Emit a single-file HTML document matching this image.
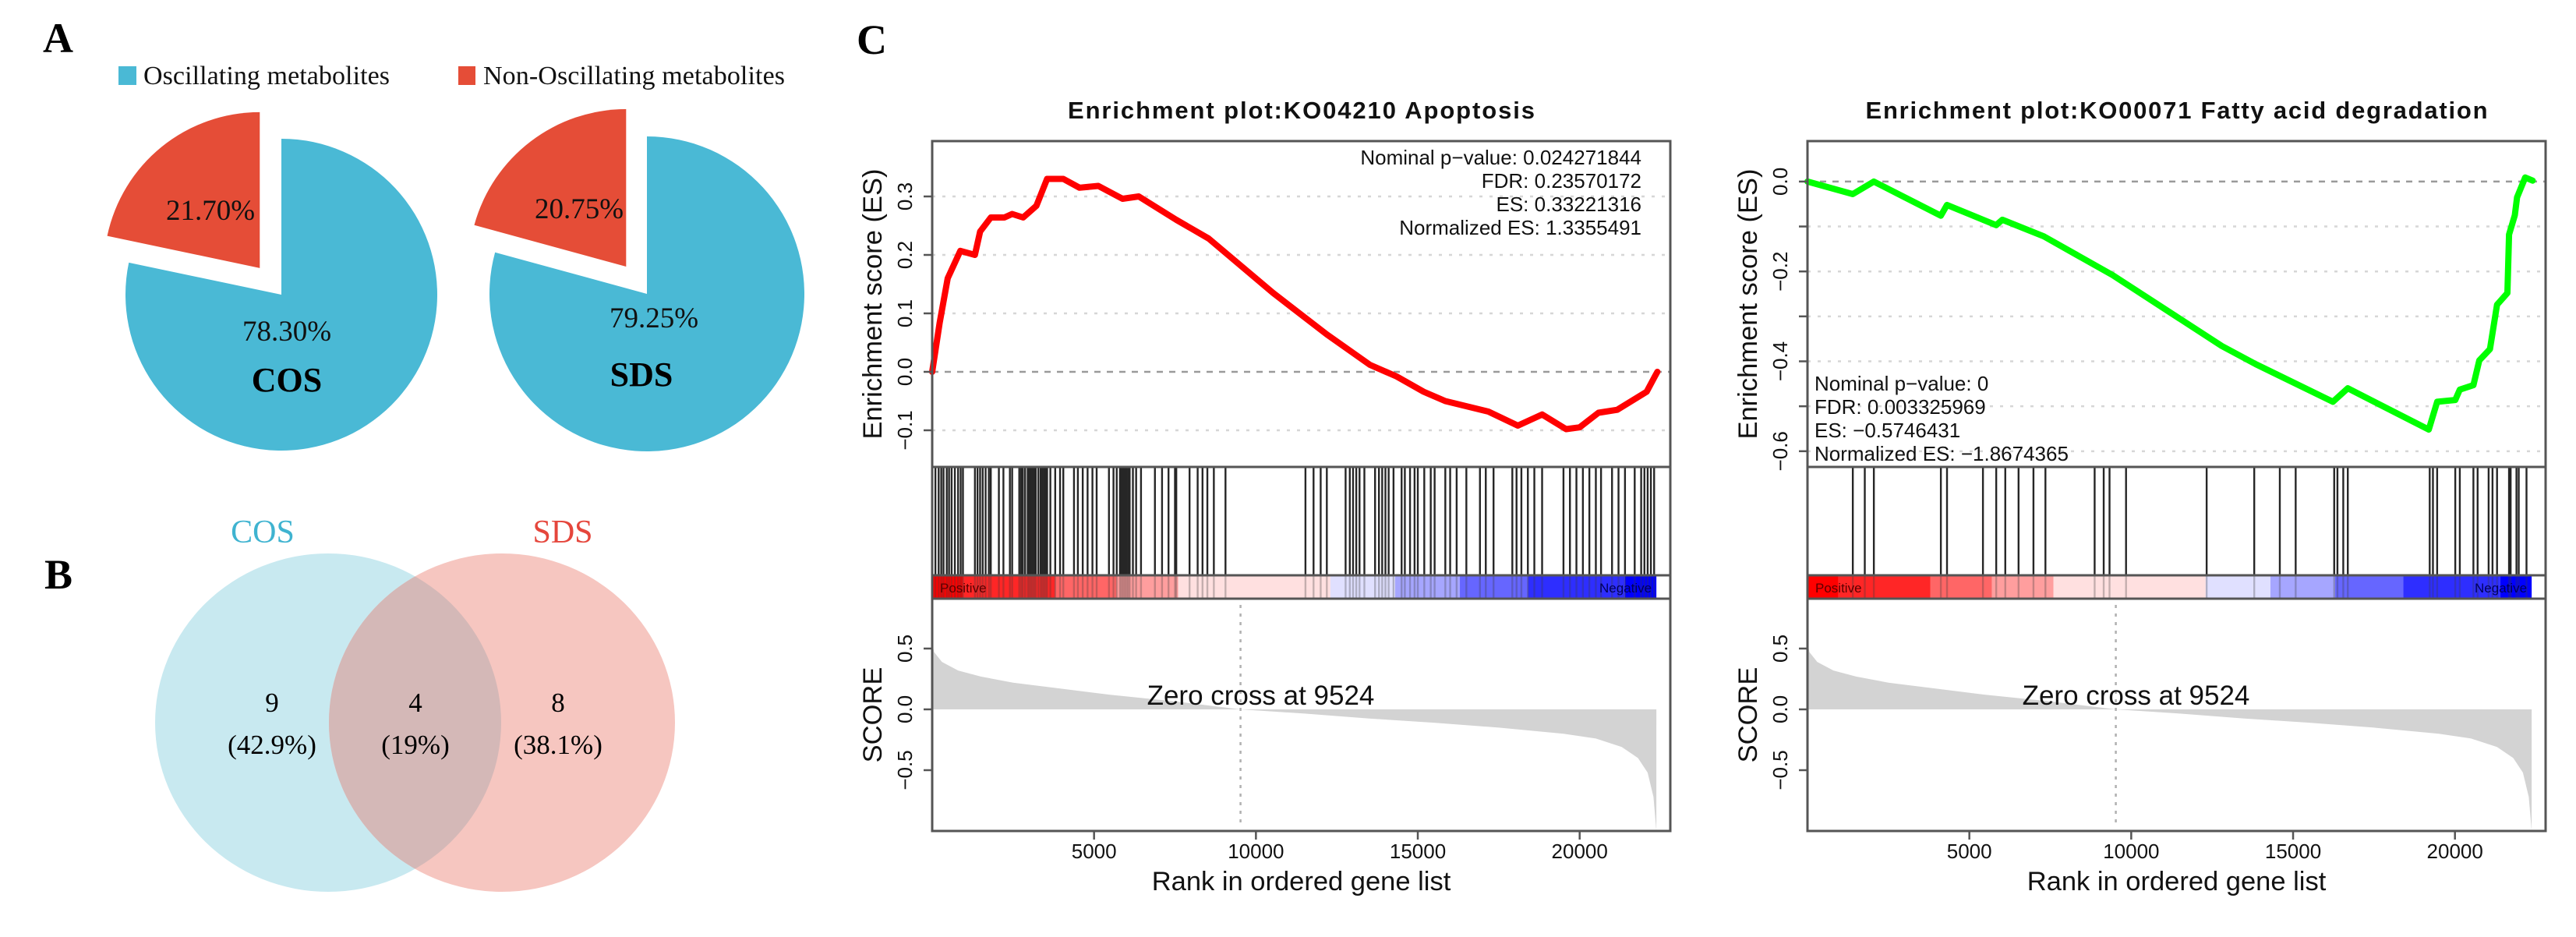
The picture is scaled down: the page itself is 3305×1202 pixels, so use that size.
<!DOCTYPE html>
<html><head><meta charset="utf-8"><title>Metabolite figure</title>
<style>
html,body{margin:0;padding:0;background:#fff;}
svg{display:block;}
.serif{font-family:"Liberation Serif","Times New Roman",serif;}
.sans{font-family:"Liberation Sans",Arial,sans-serif;}
</style></head>
<body>
<svg id="fig" width="3305" height="1202" viewBox="0 0 3305 1202" xmlns="http://www.w3.org/2000/svg">
  <rect x="0" y="0" width="3305" height="1202" fill="#fff"/>
  <!-- Panel labels -->
  <text class="serif" x="55" y="67" font-size="54" font-weight="bold">A</text>
  <text class="serif" x="57" y="755" font-size="54" font-weight="bold">B</text>
  <text class="serif" x="1099" y="69" font-size="54" font-weight="bold">C</text>
  <!-- Legend -->
  <g>
    <rect x="152" y="85" width="23" height="24" fill="#4ab9d5"/>
    <text class="serif" x="184" y="108" font-size="34" fill="#111" textLength="316">Oscillating metabolites</text>
    <rect x="588" y="85" width="22" height="24" fill="#e54d37"/>
    <text class="serif" x="620" y="108" font-size="34" fill="#111" textLength="387">Non-Oscillating metabolites</text>
  </g>
  <g id="pies"></g>
  <!-- Venn -->
  <g>
    <ellipse cx="421" cy="927" rx="222" ry="217" fill="#c8e9f0"/>
    <ellipse cx="644" cy="927" rx="222" ry="217" fill="#f6c6c0"/>
    <clipPath id="cosClip"><ellipse cx="421" cy="927" rx="222" ry="217"/></clipPath>
    <ellipse cx="644" cy="927" rx="222" ry="217" fill="#d4b8b7" clip-path="url(#cosClip)"/>
    <text class="serif" x="337" y="696" font-size="42" fill="#3fb3d0" text-anchor="middle">COS</text>
    <text class="serif" x="722" y="696" font-size="42" fill="#e5463c" text-anchor="middle">SDS</text>
    <text class="serif" x="349" y="913" font-size="35" text-anchor="middle">9</text>
    <text class="serif" x="349" y="967" font-size="35" text-anchor="middle">(42.9%)</text>
    <text class="serif" x="533" y="913" font-size="35" text-anchor="middle">4</text>
    <text class="serif" x="533" y="967" font-size="35" text-anchor="middle">(19%)</text>
    <text class="serif" x="716" y="913" font-size="35" text-anchor="middle">8</text>
    <text class="serif" x="716" y="967" font-size="35" text-anchor="middle">(38.1%)</text>
  </g>
  <g id="gsea1"></g>
  <g id="gsea2"></g>
</svg>
<script>
// ---------- Pie data ----------
const pieNames = ["COS", "SDS"];
const pieOscPct = [78.30, 79.25];
const pieNonPct = [21.70, 20.75];

// ---------- Shared GSEA data ----------
const totalGenes = 22370;
const xTickVals = [5000, 10000, 15000, 20000];
const zeroCross = 9524;
const scoreRanks = [0, 60, 300, 800, 1500, 2500, 4000, 5500, 7500, 9524, 11500, 13500, 15500, 17500, 19500, 20500, 21300, 21800, 22100, 22280, 22370];
const scoreVals  = [0.55, 0.47, 0.39, 0.32, 0.27, 0.22, 0.17, 0.12, 0.065, 0, -0.035, -0.075, -0.11, -0.15, -0.2, -0.24, -0.31, -0.4, -0.52, -0.72, -1.0];
const scoreTickVals = [0.5, 0.0, -0.5];
const scoreTickLabels = ["0.5", "0.0", "\u22120.5"];
const barBreaks = [0, 950, 3800, 5700, 7600, 12300, 14300, 16300, 18400, 21400, 22370];
const barLevels = [1.0, 0.85, 0.6, 0.38, 0.12, -0.12, -0.35, -0.6, -0.82, -1.0];

// ---------- Apoptosis (left) ----------
const esRanks1 = [0, 230, 480, 870, 1320, 1480, 1810, 2230, 2470, 2810, 3220, 3550, 4050, 4550, 5130, 5880, 6380, 7540, 8540, 10530, 12190, 13520, 14350, 15180, 15850, 17180, 18090, 18840, 19580, 20000, 20580, 21160, 22070, 22320, 22400];
const esVals1  = [0, 0.084, 0.16, 0.207, 0.20, 0.24, 0.264, 0.264, 0.27, 0.264, 0.284, 0.33, 0.33, 0.315, 0.318, 0.296, 0.30, 0.26, 0.228, 0.135, 0.064, 0.012, -0.008, -0.034, -0.05, -0.068, -0.092, -0.073, -0.098, -0.095, -0.07, -0.065, -0.034, -0.008, 0];
const hits1 = [100,200,280,350,450,520,600,700,800,880,950,1320,1400,1480,1560,1650,1750,1810,2060,2200,2400,2470,2690,2750,2800,2870,2950,3000,3050,3100,3150,3200,3280,3350,3400,3450,3500,3550,3650,3800,3950,4050,4380,4500,4650,4800,4950,5080,5460,5600,5700,5800,5850,5900,5950,6000,6050,6100,6200,6300,6450,6880,7100,7300,7500,7540,7950,8200,8350,8500,8700,9060,11530,11780,12000,12190,12770,12900,13000,13100,13200,13350,13680,13800,13900,14000,14100,14250,14500,14600,14760,14900,15000,15200,15400,15520,15850,16000,16200,16500,16920,17100,17340,17920,18050,18200,18400,18600,18840,19500,19700,19900,20100,20300,20500,20660,21000,21200,21400,21700,21900,22000,22100,22200,22300];
const esTickVals1 = [-0.1, 0.0, 0.1, 0.2, 0.3];
const esTickLabels1 = ["\u22120.1", "0.0", "0.1", "0.2", "0.3"];
const stats1 = ["Nominal p\u2212value: 0.024271844", "FDR: 0.23570172", "ES: 0.33221316", "Normalized ES: 1.3355491"];

// ---------- Fatty acid degradation (right) ----------
const esRanks2 = [0, 1400, 2050, 4120, 4310, 5830, 6020, 7300, 9420, 12800, 13840, 16230, 16690, 19190, 19450, 20010, 20150, 20570, 20750, 21080, 21300, 21620, 21670, 21850, 21920, 22170, 22400];
const esVals2  = [0, -0.028, 0, -0.076, -0.052, -0.097, -0.085, -0.122, -0.208, -0.366, -0.406, -0.49, -0.46, -0.552, -0.49, -0.486, -0.463, -0.453, -0.398, -0.373, -0.274, -0.248, -0.118, -0.075, -0.035, 0.009, 0.002];
const hits2 = [1400,1770,2050,4120,4310,5420,5830,6110,6520,6980,7350,8870,9150,9330,9840,12330,13800,14590,15080,16270,16370,16550,16690,19220,19320,19450,20010,20150,20570,20700,21040,21160,21300,21670,21720,21900,21970,22210];
const esTickVals2 = [0, -0.1, -0.2, -0.3, -0.4, -0.5, -0.6];
const esTickLabels2 = ["0.0", "", "\u22120.2", "", "\u22120.4", "", "\u22120.6"];
const stats2 = ["Nominal p\u2212value: 0", "FDR: 0.003325969", "ES: \u22120.5746431", "Normalized ES: \u22121.8674365"];

const NS = "http://www.w3.org/2000/svg";
function mk(parent, tag, attrs, text) {
  const e = document.createElementNS(NS, tag);
  for (const k in attrs) e.setAttribute(k, attrs[k]);
  if (text !== undefined) e.textContent = text;
  parent.appendChild(e);
  return e;
}

// ---------- Pies ----------
(function () {
  const g = document.getElementById("pies");
  const layout = [
    {cx: 361, cy: 378, r: 200, oscLab: [368, 437], nonLab: [270, 282], nameLab: [368, 502]},
    {cx: 830, cy: 377, r: 202, oscLab: [839, 420], nonLab: [743, 280], nameLab: [823, 495]}
  ];
  const explode = 44;
  function pt(cx, cy, r, deg) {
    const a = deg * Math.PI / 180;
    return [cx + r * Math.sin(a), cy - r * Math.cos(a)];
  }
  for (let i = 0; i < pieNames.length; i++) {
    const L = layout[i];
    const oscDeg = pieOscPct[i] / 100 * 360;
    const nonDeg = pieNonPct[i] / 100 * 360;
    const p0 = pt(L.cx, L.cy, L.r, 0), p1 = pt(L.cx, L.cy, L.r, oscDeg);
    const blue = mk(g, "path", {d: `M${L.cx},${L.cy} L${p0[0]},${p0[1]} A${L.r},${L.r} 0 ${oscDeg > 180 ? 1 : 0} 1 ${p1[0]},${p1[1]} Z`, fill: "#4ab9d5"});
    
    
    const mid = oscDeg + nonDeg / 2;
    const off = pt(0, 0, explode, mid);
    const cx2 = L.cx + off[0], cy2 = L.cy + off[1];
    const q0 = pt(cx2, cy2, L.r, oscDeg), q1 = pt(cx2, cy2, L.r, 360);
    const red = mk(g, "path", {d: `M${cx2},${cy2} L${q0[0]},${q0[1]} A${L.r},${L.r} 0 ${nonDeg > 180 ? 1 : 0} 1 ${q1[0]},${q1[1]} Z`, fill: "#e54d37"});
    
    
    const t1 = mk(g, "text", {x: L.nonLab[0], y: L.nonLab[1], "font-size": 37, "text-anchor": "middle", class: "serif", fill: "#111"}, pieNonPct[i].toFixed(2) + "%");
    
    
    const t2 = mk(g, "text", {x: L.oscLab[0], y: L.oscLab[1], "font-size": 37, "text-anchor": "middle", class: "serif", fill: "#111"}, pieOscPct[i].toFixed(2) + "%");
    
    
    const t3 = mk(g, "text", {x: L.nameLab[0], y: L.nameLab[1], "font-size": 44, "font-weight": "bold", "text-anchor": "middle", class: "serif", fill: "#000"}, pieNames[i]);
    
    
  }
})();

// ---------- GSEA plots ----------
function barColor(l) {
  const v = Math.round(255 * (1 - Math.abs(l)));
  return l >= 0 ? `rgb(255,${v},${v})` : `rgb(${v},${v},255)`;
}
function drawGSEA(gid, o) {
  const g = document.getElementById(gid);
  const L = o.left, R = o.left + 947;
  const top = 181, esBot = 599, barTop = 738, barBot = 768, bot = 1066;
  const xS = r => L + r * (947 / 22800);
  const yES = v => top + (o.esMax - v) / (o.esMax - o.esMin) * (esBot - top);
  const yS = v => barBot + (0.91 - v) / (0.91 + 1.0) * (bot - barBot);

  const title = mk(g, "text", {x: (L + R) / 2, y: 152, "font-size": 31, "font-weight": "bold", "text-anchor": "middle", class: "sans", textLength: o.titleLen, fill: "#111"}, o.title);
  
  

  // gridlines
  o.esTicks.forEach(v => {
    const gl = mk(g, "line", {x1: L, x2: R, y1: yES(v), y2: yES(v), stroke: v === 0 ? "#9a9a9a" : "#d6d6d6", "stroke-width": v === 0 ? 2.5 : 2.5, "stroke-dasharray": v === 0 ? "8,8" : "4,9"});
    
    
  });
  // ES curve
  const pts = o.esRanks.map((r, i) => `${xS(r).toFixed(1)},${yES(o.esVals[i]).toFixed(1)}`).join(" ");
  const curve = mk(g, "polyline", {points: pts, fill: "none", stroke: o.color, "stroke-width": 8, "stroke-linejoin": "round", "stroke-linecap": "round"});
  
  

  // color bar
  for (let i = 0; i < barLevels.length; i++) {
    const rc = mk(g, "rect", {x: xS(barBreaks[i]), y: barTop, width: xS(barBreaks[i + 1]) - xS(barBreaks[i]), height: barBot - barTop, fill: barColor(barLevels[i])});
    
    
  }
  // hits
  o.hits.forEach(r => {
    const h = mk(g, "line", {x1: xS(r), x2: xS(r), y1: esBot, y2: barTop, stroke: "#262626", "stroke-width": 2.4});
    
    
    const h2 = mk(g, "line", {x1: xS(r), x2: xS(r), y1: barTop, y2: barBot, stroke: "rgba(60,60,60,0.3)", "stroke-width": 2.4});
    
    
  });
  const pos = mk(g, "text", {x: L + 10, y: barTop + 22, "font-size": 17, class: "sans", fill: "#5a0000"}, "Positive");
  
  
  const neg = mk(g, "text", {x: xS(totalGenes) - 6, y: barTop + 22, "font-size": 17, "text-anchor": "end", class: "sans", fill: "#00005a"}, "Negative");
  
  

  // score fill
  let d = `M${xS(scoreRanks[0])},${yS(0)}`;
  scoreRanks.forEach((r, i) => { d += ` L${xS(r).toFixed(1)},${yS(scoreVals[i]).toFixed(1)}`; });
  d += ` L${xS(scoreRanks[scoreRanks.length - 1])},${yS(0)} Z`;
  const fill = mk(g, "path", {d: d, fill: "#d3d3d3"});
  
  
  const zl = mk(g, "line", {x1: xS(zeroCross), x2: xS(zeroCross), y1: barBot + 8, y2: bot - 6, stroke: "#b0b0b0", "stroke-width": 2.5, "stroke-dasharray": "4,7"});
  
  
  const zt = mk(g, "text", {x: xS(zeroCross) - 120, y: 904, "font-size": 35, class: "sans", fill: "#111"}, "Zero cross at " + zeroCross);
  
  

  // frame & separators
  const fr = mk(g, "rect", {x: L, y: top, width: R - L, height: bot - top, fill: "none", stroke: "#555", "stroke-width": 3});
  
  
  [esBot, barTop, barBot].forEach(y => {
    const s = mk(g, "line", {x1: L, x2: R, y1: y, y2: y, stroke: "#555", "stroke-width": 3});
    
    
  });

  // ES axis
  o.esTicks.forEach((v, i) => {
    const tk = mk(g, "line", {x1: L - 11, x2: L, y1: yES(v), y2: yES(v), stroke: "#555", "stroke-width": 2.5});
    
    
    if (o.esLabels[i]) {
      const tl = mk(g, "text", {x: L - 26, y: yES(v), "font-size": 26, "text-anchor": "middle", class: "sans", fill: "#111", transform: `rotate(-90 ${L - 26} ${yES(v)})`}, o.esLabels[i]);
      
      
    }
  });
  const esT = mk(g, "text", {x: L - 65, y: (top + esBot) / 2, "font-size": 34.5, "text-anchor": "middle", class: "sans", fill: "#111", transform: `rotate(-90 ${L - 65} ${(top + esBot) / 2})`}, "Enrichment score (ES)");
  
  

  // score axis
  scoreTickVals.forEach((v, i) => {
    const tk = mk(g, "line", {x1: L - 11, x2: L, y1: yS(v), y2: yS(v), stroke: "#555", "stroke-width": 2.5});
    
    
    const tl = mk(g, "text", {x: L - 26, y: yS(v), "font-size": 26, "text-anchor": "middle", class: "sans", fill: "#111", transform: `rotate(-90 ${L - 26} ${yS(v)})`}, scoreTickLabels[i]);
    
    
  });
  const sT = mk(g, "text", {x: L - 65, y: 917, "font-size": 34.5, "text-anchor": "middle", class: "sans", fill: "#111", transform: `rotate(-90 ${L - 65} 917)`}, "SCORE");
  
  

  // x axis
  xTickVals.forEach(v => {
    const tk = mk(g, "line", {x1: xS(v), x2: xS(v), y1: bot, y2: bot + 11, stroke: "#555", "stroke-width": 2.5});
    
    
    const tl = mk(g, "text", {x: xS(v), y: 1101, "font-size": 26, "text-anchor": "middle", class: "sans", fill: "#111"}, String(v));
    
    
  });
  const xT = mk(g, "text", {x: (L + R) / 2, y: 1142, "font-size": 34.5, "text-anchor": "middle", class: "sans", fill: "#111"}, "Rank in ordered gene list");
  
  

  // stats
  o.stats.forEach((s, i) => {
    const st = mk(g, "text", {x: o.statsX, y: o.statsY + i * 30, "font-size": 26, "text-anchor": o.statsAnchor, class: "sans", fill: "#111"}, s);
    
    
  });
}

drawGSEA("gsea1", {left: 1196, esMax: 0.3947, esMin: -0.1627, esRanks: esRanks1, esVals: esVals1, hits: hits1,
  esTicks: esTickVals1, esLabels: esTickLabels1, color: "#ff0000", title: "Enrichment plot:KO04210 Apoptosis", titleLen: 599,
  stats: stats1, statsX: 2106, statsY: 211, statsAnchor: "end"});
drawGSEA("gsea2", {left: 2319, esMax: 0.090, esMin: -0.635, esRanks: esRanks2, esVals: esVals2, hits: hits2,
  esTicks: esTickVals2, esLabels: esTickLabels2, color: "#00ff00", title: "Enrichment plot:KO00071 Fatty acid degradation", titleLen: 798,
  stats: stats2, statsX: 2328, statsY: 501, statsAnchor: "start"});
</script>
</body></html>
